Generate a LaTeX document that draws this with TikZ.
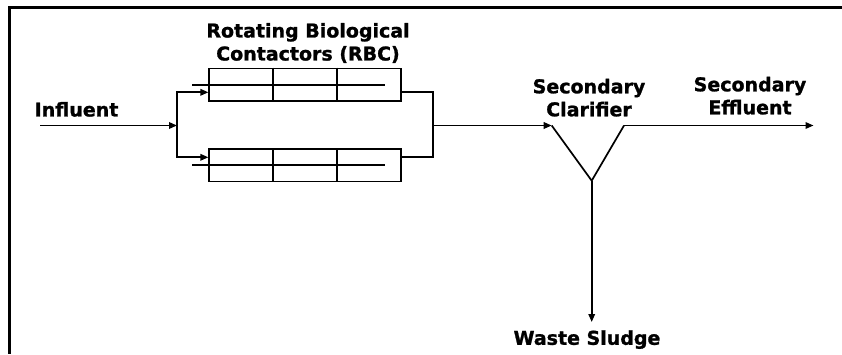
\documentclass[tikz,border=0pt]{standalone}
\usepackage{fontspec}
\setmainfont{DejaVu Sans}[BoldFeatures={FakeBold=1.2}]
\usetikzlibrary{arrows.meta,calc}
\begin{document}
\begin{tikzpicture}[x=1pt,y=-1pt,line width=1.7pt,
  lbl/.style={font=\fontsize{19}{23}\selectfont\bfseries,align=center,inner sep=0pt,anchor=north},
  rbcbox/.style={draw,rectangle,minimum width=191.4pt,minimum height=32.5pt,inner sep=0pt,line width=1.8pt},
  flow/.style={-{Triangle[length=8pt,width=6.5pt]},line width=1.7pt}]
\useasboundingbox (0,0) rectangle (842,354);
% frame
\draw[line width=3pt] (842,7) -| (9.5,354);
% labels
\node[lbl] (inf) at (76.5,101.2) {Influent};
\node[lbl] (rbclbl) at (308,22.2) {Rotating Biological\\Contactors (RBC)};
\node[lbl] (clarlbl) at (589,78) {Secondary\\Clarifier};
\node[lbl] (efflbl) at (750,76) {Secondary\\Effluent};
\node[lbl] (wslbl) at (587,329.5) {Waste Sludge};
% RBC boxes
\node[rbcbox] (t) at (305,84.7) {};
\node[rbcbox] (b) at (305,165.3) {};
\foreach \bx in {t,b}{
  \draw[line width=1.8pt] ($(\bx.north west)!1/3!(\bx.north east)$) -- ($(\bx.south west)!1/3!(\bx.south east)$);
  \draw[line width=1.8pt] ($(\bx.north west)!2/3!(\bx.north east)$) -- ($(\bx.south west)!2/3!(\bx.south east)$);
  \draw[line width=1.8pt] ([xshift=-16pt]\bx.west) -- ([xshift=-16.7pt]\bx.east);
}
% coordinates
\coordinate (in) at (40,125.5);
\coordinate (split) at (177,125.5);
\coordinate (merge) at (432.7,125.5);
\coordinate (cl) at (551.7,125.5);
\coordinate (cb) at (591.7,180.7);
\coordinate (cr) at (624,125.5);
\coordinate (eff) at (813.5,125.5);
\coordinate (sl) at (591.7,322);
% influent and split
\draw[flow] (in) -- (split);
\draw[flow] (split) |- ([yshift=-7.6pt]t.west);
\draw[flow] (split) |- ([yshift=8pt]b.west);
% merge
\draw ([yshift=-7.6pt]t.east) -| (merge);
\draw ([yshift=8pt]b.east) -| (merge);
\draw[flow] (merge) -- (cl);
% clarifier
\draw[line join=miter] (cl) -- (cb) -- (cr);
\draw[flow] (cr) -- (eff);
\draw[flow] (cb) -- (sl);
\end{tikzpicture}
\end{document}
